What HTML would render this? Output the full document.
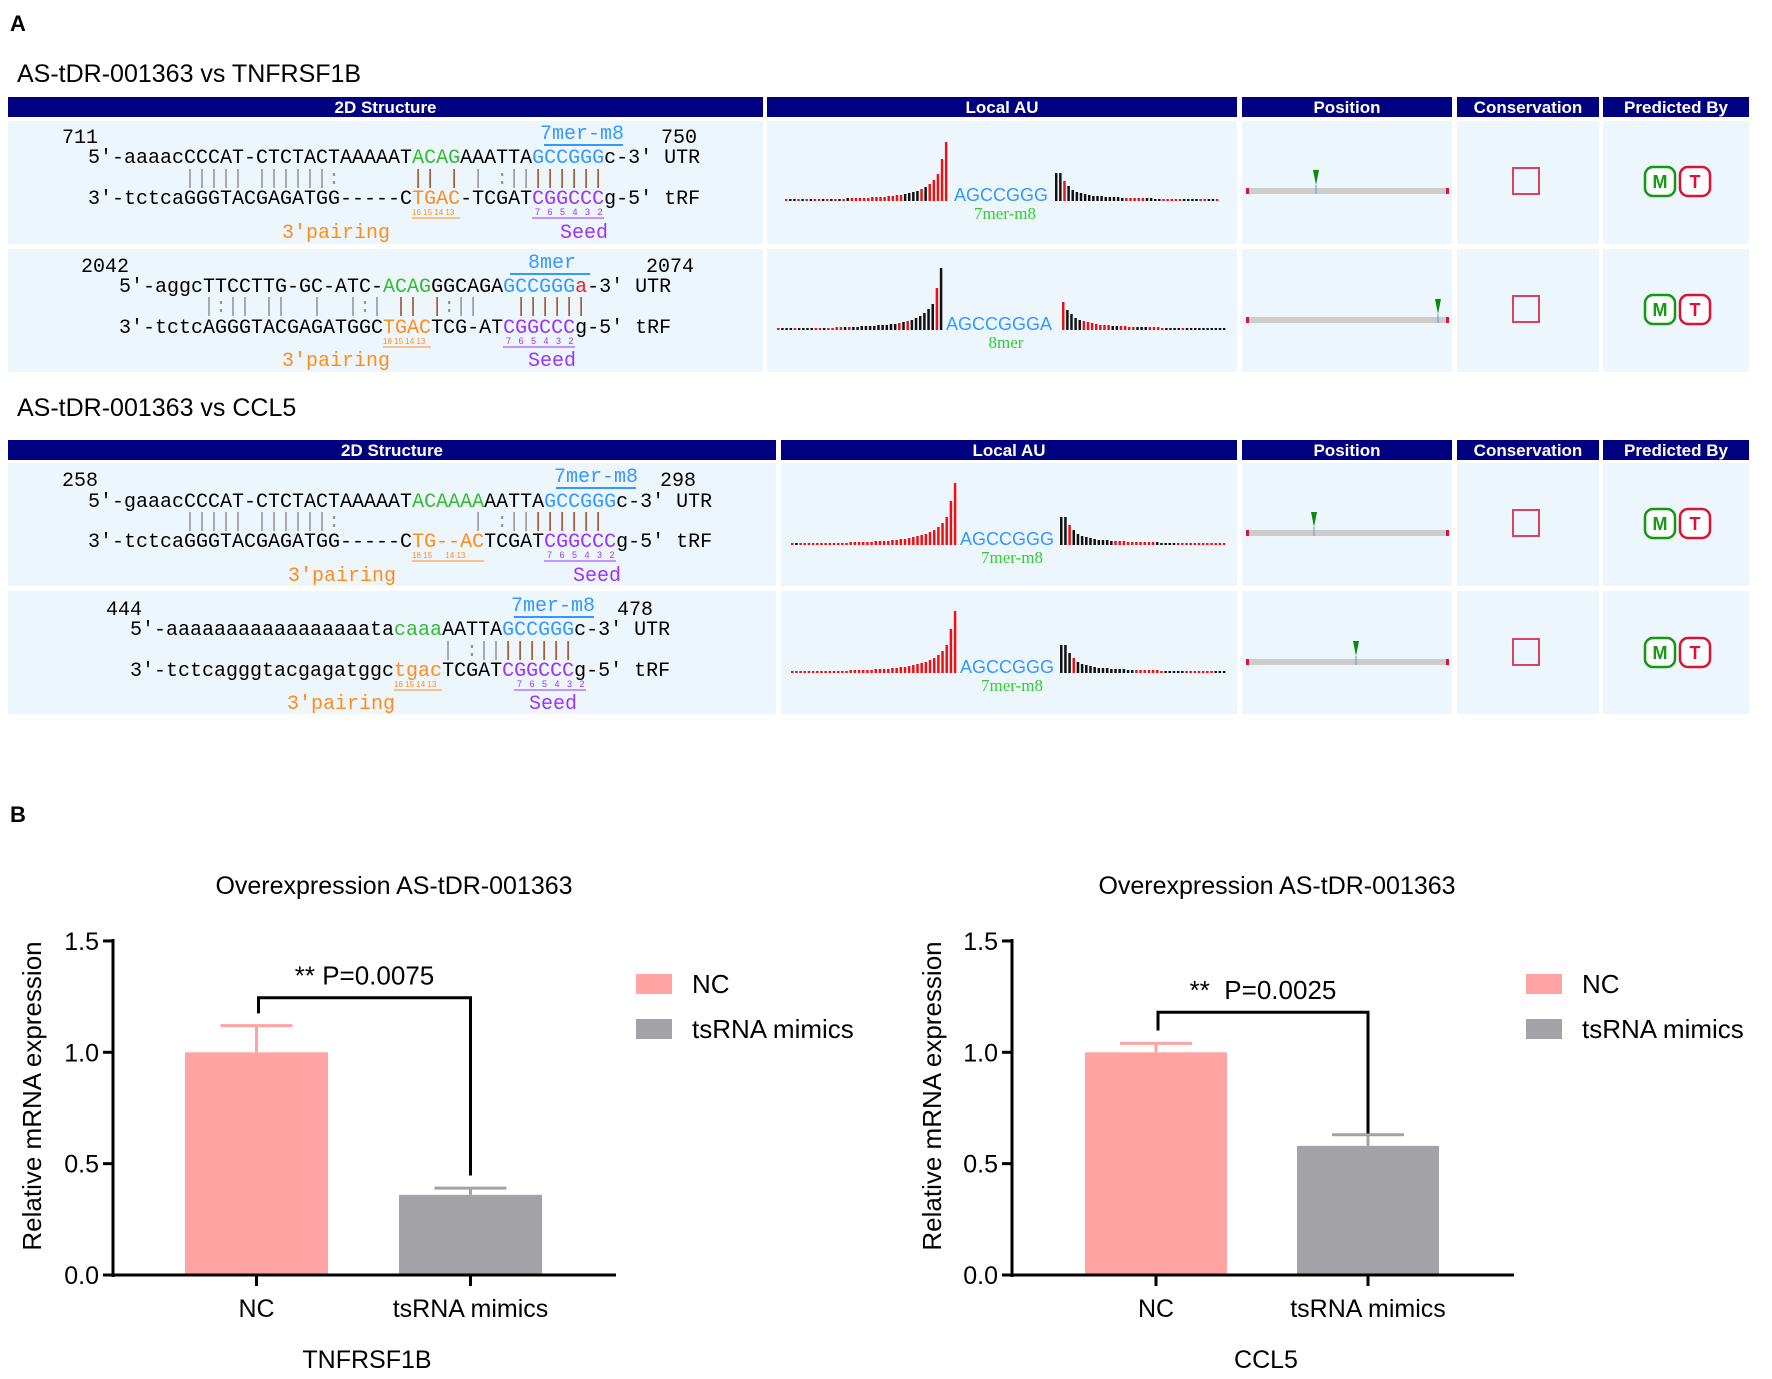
<!DOCTYPE html>
<html><head><meta charset="utf-8"><style>
html,body{margin:0;padding:0;background:#fff}
svg{display:block}
svg text{white-space:pre}
.mono{font-family:"Liberation Mono",monospace;font-size:20px}
.sans{font-family:"Liberation Sans",sans-serif}
</style></head><body>
<svg id="fig" width="1772" height="1379" viewBox="0 0 1772 1379" xmlns="http://www.w3.org/2000/svg">
<text x="10" y="31" class="sans" font-size="22" font-weight="bold">A</text>
<text x="17" y="82" class="sans" font-size="25">AS-tDR-001363 vs TNFRSF1B</text>
<text x="17" y="416" class="sans" font-size="25">AS-tDR-001363 vs CCL5</text>
<g id="tables"></g>
<g id="seqs" class="mono" xml:space="preserve">
 <g>
 <text x="62" y="143">711</text><text x="540" y="139" fill="#3399ff">7mer-m8</text><line x1="544" y1="145" x2="623" y2="145" stroke="#3399ff" stroke-width="2"/><text x="661" y="143">750</text>
 <text x="88" y="163">5'-aaaacCCCAT-CTCTACTAAAAAT<tspan fill="#33bb33">ACAG</tspan>AAATTA<tspan fill="#3399ff">GCCGGG</tspan>c-3' UTR</text>
 <text x="88" y="184" fill="#999">        ||||| ||||||:      <tspan fill="#a0522d">||</tspan> <tspan fill="#a0522d">|</tspan> | :||<tspan fill="#a0522d">||||||</tspan></text>
 <text x="88" y="204">3'-tctcaGGGTACGAGATGG-----C<tspan fill="#ff8c1a">TGAC</tspan>-TCGAT<tspan fill="#9933ff">CGGCCC</tspan>g-5' tRF</text>
 <text x="412" y="215" font-size="8" fill="#ff8c1a" font-family="Liberation Sans,sans-serif">16 15 14 13</text><line x1="412" y1="218" x2="460" y2="218" stroke="#ff8c1a"/>
 <text x="535" y="215" font-size="9" fill="#9933ff" font-family="Liberation Sans,sans-serif">7   6   5   4   3   2</text><line x1="532" y1="218" x2="604" y2="218" stroke="#9933ff"/>
 <text x="336" y="238" text-anchor="middle" fill="#ff8c1a">3'pairing</text><text x="584" y="238" text-anchor="middle" fill="#9933ff">Seed</text>
 </g>
 <g>
 <text x="81" y="272">2042</text><text x="528" y="268" fill="#3399ff">8mer</text><line x1="510" y1="274" x2="590" y2="274" stroke="#3399ff" stroke-width="2"/><text x="646" y="272">2074</text>
 <text x="119" y="292">5'-aggcTTCCTTG-GC-ATC-<tspan fill="#33bb33">ACAG</tspan>GGCAGA<tspan fill="#3399ff">GCCGGG</tspan><tspan fill="#ee2222">a</tspan>-3' UTR</text>
 <text x="119" y="312" fill="#999">       |:|| ||  |  |:| <tspan fill="#a0522d">||</tspan> <tspan fill="#a0522d">|</tspan>:||   <tspan fill="#a0522d">||||||</tspan></text>
 <text x="119" y="333">3'-tctcAGGGTACGAGATGGC<tspan fill="#ff8c1a">TGAC</tspan>TCG-AT<tspan fill="#9933ff">CGGCCC</tspan>g-5' tRF</text>
 <text x="383" y="344" font-size="8" fill="#ff8c1a" font-family="Liberation Sans,sans-serif">16 15 14 13</text><line x1="383" y1="347" x2="431" y2="347" stroke="#ff8c1a"/>
 <text x="506" y="344" font-size="9" fill="#9933ff" font-family="Liberation Sans,sans-serif">7   6   5   4   3   2</text><line x1="503" y1="347" x2="575" y2="347" stroke="#9933ff"/>
 <text x="336" y="366" text-anchor="middle" fill="#ff8c1a">3'pairing</text><text x="552" y="366" text-anchor="middle" fill="#9933ff">Seed</text>
 </g>
 <g>
 <text x="62" y="486">258</text><text x="554" y="482" fill="#3399ff">7mer-m8</text><line x1="556" y1="488" x2="636" y2="488" stroke="#3399ff" stroke-width="2"/><text x="660" y="486">298</text>
 <text x="88" y="507">5'-gaaacCCCAT-CTCTACTAAAAAT<tspan fill="#33bb33">ACAAAA</tspan>AATTA<tspan fill="#3399ff">GCCGGG</tspan>c-3' UTR</text>
 <text x="88" y="527" fill="#999">        ||||| ||||||:           | :||<tspan fill="#a0522d">||||||</tspan></text>
 <text x="88" y="547">3'-tctcaGGGTACGAGATGG-----C<tspan fill="#ff8c1a">TG--AC</tspan>TCGAT<tspan fill="#9933ff">CGGCCC</tspan>g-5' tRF</text>
 <text x="412" y="558" font-size="8" fill="#ff8c1a" font-family="Liberation Sans,sans-serif">16 15      14 13</text><line x1="412" y1="561" x2="484" y2="561" stroke="#ff8c1a"/>
 <text x="547" y="558" font-size="9" fill="#9933ff" font-family="Liberation Sans,sans-serif">7   6   5   4   3   2</text><line x1="544" y1="561" x2="616" y2="561" stroke="#9933ff"/>
 <text x="342" y="581" text-anchor="middle" fill="#ff8c1a">3'pairing</text><text x="597" y="581" text-anchor="middle" fill="#9933ff">Seed</text>
 </g>
 <g>
 <text x="106" y="615">444</text><text x="511" y="611" fill="#3399ff">7mer-m8</text><line x1="514" y1="617" x2="594" y2="617" stroke="#3399ff" stroke-width="2"/><text x="617" y="615">478</text>
 <text x="130" y="635">5'-aaaaaaaaaaaaaaaaata<tspan fill="#33bb33">caaa</tspan>AATTA<tspan fill="#3399ff">GCCGGG</tspan>c-3' UTR</text>
 <text x="130" y="656" fill="#999">                          | :||<tspan fill="#a0522d">||||||</tspan></text>
 <text x="130" y="676">3'-tctcagggtacgagatggc<tspan fill="#ff8c1a">tgac</tspan>TCGAT<tspan fill="#9933ff">CGGCCC</tspan>g-5' tRF</text>
 <text x="394" y="687" font-size="8" fill="#ff8c1a" font-family="Liberation Sans,sans-serif">16 15 14 13</text><line x1="394" y1="690" x2="442" y2="690" stroke="#ff8c1a"/>
 <text x="517" y="687" font-size="9" fill="#9933ff" font-family="Liberation Sans,sans-serif">7   6   5   4   3   2</text><line x1="514" y1="690" x2="586" y2="690" stroke="#9933ff"/>
 <text x="341" y="709" text-anchor="middle" fill="#ff8c1a">3'pairing</text><text x="553" y="709" text-anchor="middle" fill="#9933ff">Seed</text>
 </g>
</g>
<g id="au"></g>
<g id="misc"></g>
<text x="10" y="822" class="sans" font-size="22" font-weight="bold">B</text>
<g id="charts" class="sans"></g>
</svg>
<script>
const NS='http://www.w3.org/2000/svg';
function mk(tag,attrs,parent,txt){const e=document.createElementNS(NS,tag);for(const k in attrs)e.setAttribute(k,attrs[k]);if(txt!==undefined)e.textContent=txt;parent.appendChild(e);return e;}

const headerNames=['2D Structure','Local AU','Position','Conservation','Predicted By'];
const tables=[
 {hy:97,rows:[[121,244],[249,372]],cols:[[8,763],[767,1237],[1242,1452],[1457,1599],[1603,1749]]},
 {hy:440,rows:[[463,586],[591,714]],cols:[[8,776],[781,1237],[1242,1452],[1457,1599],[1603,1749]]}
];
const tg=document.getElementById('tables');
tables.forEach((t,ti)=>{
 t.cols.forEach((c,ci)=>{
  const h=mk('rect',{x:c[0],y:t.hy,width:c[1]-c[0],height:20,fill:'#000080'},tg);
  
  
  const tx=mk('text',{x:(c[0]+c[1])/2,y:t.hy+16,'text-anchor':'middle',fill:'#fff','font-size':17,'font-weight':'bold','font-family':'Liberation Sans,sans-serif'},tg,headerNames[ci]);
  
  
  t.rows.forEach(r=>{
   const cell=mk('rect',{x:c[0],y:r[0],width:c[1]-c[0],height:r[1]-r[0],fill:'#eef6fd'},tg);
   
   
  });
 });
});

const auRow1Left=[2,2,2,2,2,2,2,2,2,2,2,2,2,2,2,3,3,3,3,3,3,4,4,4,4,5,5,6,6,7,8,9,10,12,14,17,21,27,42,59];
const auRow1Right=[28,28,20,15,11,9,8,7,6,5,5,5,4,4,4,4,3,3,3,3,3,3,3,3,2,2,2,2,2,2,2,2,2,2,2,2,2,2,2,2];
const auRow1LC='rkkrkrkrrkrkrkrkrrrrrrrrrrrrrkkkkrkrrrrr';
const auRow1RC='kkrkkkkkkkkkkkkkkrrrrrkkkkrrrrrkkkkrrkkr';
const auRow2Left=[2,2,2,2,2,2,2,2,2,2,2,2,2,2,3,3,3,3,3,3,4,4,4,4,5,5,5,6,6,7,8,9,10,12,14,17,21,26,42,62];
const auRow2Right=[28,20,16,12,10,9,8,7,6,5,5,5,4,4,4,4,3,3,3,3,3,3,3,3,2,2,2,2,2,2,2,2,2,2,2,2,2,2,2,2];
const auRow2LC='rkkkrkkkkrrkrrrrkrkkkkkkkkkkkrkrkkkkkkrk';
const auRow2RC='rkkkkrrrrrrrkkrrrrkkkrrrrkkkkrkkkkkkkkkk';
const auRow3Left=[2,2,2,2,2,2,2,2,2,2,2,2,2,2,3,3,3,3,3,3,4,4,4,4,5,5,6,6,7,8,9,10,11,13,15,18,22,28,44,62];
const auRow3Right=[28,28,20,15,11,9,8,7,6,5,5,5,4,4,4,4,3,3,3,3,3,3,3,3,2,2,2,2,2,2,2,2,2,2,2,2,2,2,2,2];
const auRow3LC='rkrrrrrrrrrrrrrrrrrrrrrrrrrrrrrrrrrrrrrr';
const auRow3RC='kkrkkkkkkkkkkrrrrrrrrrrkkkkkrrrrrrrrrrrr';
const auRow4Left=[2,2,2,2,2,2,2,2,2,2,2,2,2,2,3,3,3,3,3,3,4,4,4,4,5,5,6,6,7,8,9,10,11,13,15,18,22,28,44,62];
const auRow4Right=[28,28,20,15,11,9,8,7,6,5,5,5,4,4,4,4,3,3,3,3,3,3,3,3,2,2,2,2,2,2,2,2,2,2,2,2,2,2,2,2];
const auRow4LC='rrrrrrrrrrrrrrrrrrrrrrrrrrrrrrrrrrrrrrrr';
const auRow4RC='kkkrkkkkkkkkkkkkkkrrrrrrrkkkkkrrrrrrrkkk';
const auSites=['AGCCGGG','AGCCGGGA','AGCCGGG','AGCCGGG'];
const auTypes=['7mer-m8','8mer','7mer-m8','7mer-m8'];
const auLayout=[
 {l0:785,l1:949,tx:954,r0:1055,r1:1220,base:201,ly:219},
 {l0:777,l1:944,tx:946,r0:1062,r1:1227,base:330,ly:348},
 {l0:791,l1:958,tx:960,r0:1060,r1:1227,base:545,ly:563},
 {l0:791,l1:958,tx:960,r0:1060,r1:1227,base:673,ly:691}
];
const auData=[[auRow1Left,auRow1Right,auRow1LC,auRow1RC],[auRow2Left,auRow2Right,auRow2LC,auRow2RC],[auRow3Left,auRow3Right,auRow3LC,auRow3RC],[auRow4Left,auRow4Right,auRow4LC,auRow4RC]];
const au=document.getElementById('au');
auData.forEach((d,ri)=>{
 const L=auLayout[ri];
 const g=mk('g',{},au);
 
 
 const draw=(hs,cs,x0,x1)=>{const step=(x1-x0)/hs.length;hs.forEach((h,i)=>{
  const b=mk('rect',{x:x0+i*step,y:L.base-h,width:Math.max(2,step*0.6),height:h,fill:cs[i]==='r'?'#ee1111':'#111'},g);
  
  
 });};
 draw(d[0],d[2],L.l0,L.l1);
 draw(d[1],d[3],L.r0,L.r1);
 const s=mk('text',{x:L.tx,y:L.base,fill:'#3399ff','font-size':18,'font-family':'Liberation Sans,sans-serif'},g,auSites[ri]);
 
 
 const t=mk('text',{x:(L.l1+L.r0)/2+3,y:L.ly,fill:'#33cc33','font-size':17,'text-anchor':'middle','font-family':'Liberation Serif,serif'},g,auTypes[ri]);
 
 
});

const posFrac=[0.34,0.95,0.33,0.54];
const rowCenters=[181,309,523,652];
const posBarY=[191,320,533,662];
const misc=document.getElementById('misc');
rowCenters.forEach((cy,i)=>{
 const y=posBarY[i];
 const bar=mk('rect',{x:1248,y:y-3,width:200,height:6,fill:'#cccccc'},misc);
 
 
 mk('rect',{x:1246,y:y-3,width:3,height:6,fill:'#e0103a'},misc);
 mk('rect',{x:1446,y:y-3,width:3,height:6,fill:'#e0103a'},misc);
 const mx=1248+posFrac[i]*200;
 const m=mk('path',{d:`M${mx-3} ${y-21} L${mx+3} ${y-21} L${mx} ${y-6} Z`,fill:'#0a8a0a'},misc);
 
 
 mk('line',{x1:mx,y1:y-6,x2:mx,y2:y+3,stroke:'#6699cc','stroke-width':1},misc);
 const c=mk('rect',{x:1513,y:cy-13,width:26,height:26,fill:'none',stroke:'#e0405a','stroke-width':2},misc);
 
 
 const M=mk('rect',{x:1645,y:cy-14,width:30,height:29,rx:8,fill:'#fff',stroke:'#119911','stroke-width':2.5},misc);
 
 
 mk('text',{x:1660,y:cy+7,'text-anchor':'middle',fill:'#119911','font-size':18,'font-weight':'bold','font-family':'Liberation Sans,sans-serif'},misc,'M');
 const T=mk('rect',{x:1680,y:cy-14,width:30,height:29,rx:8,fill:'#fff',stroke:'#dd1133','stroke-width':2.5},misc);
 
 
 mk('text',{x:1695,y:cy+7,'text-anchor':'middle',fill:'#dd1133','font-size':18,'font-weight':'bold','font-family':'Liberation Sans,sans-serif'},misc,'T');
});

const categories=['NC','tsRNA mimics'];
const yTicks=[0.0,0.5,1.0,1.5];
const yTickLabels=['0.0','0.5','1.0','1.5'];
const tnfValues=[1.0,0.36];
const tnfErrors=[0.12,0.03];
const ccl5Values=[1.0,0.58];
const ccl5Errors=[0.04,0.05];
const pLabels=['** P=0.0075','**  P=0.0025'];
const bracketTop=[1.245,1.18];
const bracketLeft=[1.175,1.098];
const bracketRight=[0.447,0.636];
const geneNames=['TNFRSF1B','CCL5'];
const barColors=['#ffa3a3','#a3a3a7'];
const chartLayout=[
 {ax:113,xEnd:616,barX:[185,399],barW:143,legX:636,titleX:394,geneX:367,yTitleX:32},
 {ax:1012,xEnd:1514,barX:[1085,1297],barW:142,legX:1526,titleX:1277,geneX:1266,yTitleX:932}
];
const Y0=1275, PXU=222.7;
const yScale=v=>Y0-v*PXU;
const charts=document.getElementById('charts');
[[tnfValues,tnfErrors],[ccl5Values,ccl5Errors]].forEach((ser,ci)=>{
 const L=chartLayout[ci];
 const g=mk('g',{},charts);
 
 
 const tt=mk('text',{x:L.titleX,y:894,'text-anchor':'middle','font-size':25},g,'Overexpression AS-tDR-001363');
 
 
 ser[0].forEach((v,i)=>{
  const x=L.barX[i], cx=x+L.barW/2;
  const b=mk('rect',{x:x,y:yScale(v),width:L.barW,height:v*PXU,fill:barColors[i]},g);
  
  
  const top=yScale(v+ser[1][i]);
  const e=mk('path',{d:`M${cx} ${yScale(v)} L${cx} ${top} M${cx-36} ${top} L${cx+36} ${top}`,stroke:barColors[i],'stroke-width':3,fill:'none'},g);
  
  
  mk('line',{x1:cx,y1:Y0,x2:cx,y2:Y0+11,stroke:'#000','stroke-width':3},g);
  const xl=mk('text',{x:cx,y:Y0+42,'text-anchor':'middle','font-size':25},g,categories[i]);
  
  
 });
 const ya=mk('line',{x1:L.ax,y1:yScale(1.5)-2,x2:L.ax,y2:Y0+2,stroke:'#000','stroke-width':3},g);
 
 
 const xa=mk('line',{x1:L.ax-10,y1:Y0,x2:L.xEnd,y2:Y0,stroke:'#000','stroke-width':3},g);
 
 
 yTicks.forEach((t,i)=>{
  mk('line',{x1:L.ax-10,y1:yScale(t),x2:L.ax,y2:yScale(t),stroke:'#000','stroke-width':3},g);
  const tl=mk('text',{x:L.ax-14,y:yScale(t)+9,'text-anchor':'end','font-size':25},g,yTickLabels[i]);
  
  
 });
 const yt=mk('text',{x:0,y:0,'text-anchor':'middle','font-size':26,transform:`translate(${L.yTitleX+9},1096) rotate(-90)`},g,'Relative mRNA expression');
 
 
 const gn=mk('text',{x:L.geneX,y:1368,'text-anchor':'middle','font-size':25},g,geneNames[ci]);
 
 
 const c0=L.barX[0]+L.barW/2+2, c1=L.barX[1]+L.barW/2;
 const br=mk('path',{d:`M${c0} ${yScale(bracketLeft[ci])} L${c0} ${yScale(bracketTop[ci])} L${c1} ${yScale(bracketTop[ci])} L${c1} ${yScale(bracketRight[ci])}`,stroke:'#000','stroke-width':3,fill:'none'},g);
 
 
 const pl=mk('text',{x:(c0+c1)/2,y:yScale(bracketTop[ci])-13,'text-anchor':'middle','font-size':26},g,pLabels[ci]);
 
 
 categories.forEach((c,i)=>{
  const sy=974+i*45;
  const sw=mk('rect',{x:L.legX,y:sy,width:36,height:20,fill:barColors[i]},g);
  
  
  const lt=mk('text',{x:L.legX+56,y:sy+19,'font-size':26},g,c);
  
  
 });
});
</script>
</body></html>
